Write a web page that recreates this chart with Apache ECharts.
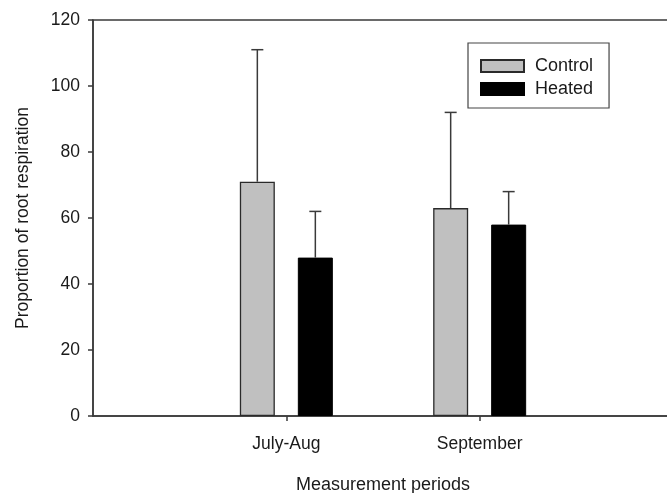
<!DOCTYPE html>
<html>
<head>
<meta charset="utf-8">
<script src="https://cdn.jsdelivr.net/npm/echarts@6/dist/echarts.min.js"></script>
<style>
  html, body { margin: 0; padding: 0; background: #fff; }
  #chart { width: 667px; height: 493px; }
</style>
</head>
<body>
<div id="chart"></div>
<script>
// Measurement periods and group means with their upper error
const periods = ['July-Aug', 'September'];
const controlMean = [71, 63];
const controlErr = [40, 29];
const heatedMean = [48, 58];
const heatedErr = [14, 10];
const yTicks = [0, 20, 40, 60, 80, 100, 120];

const FONT = '"Liberation Sans", Arial, sans-serif';
const TEXT = '#1a1a1a';
const LINE = '#3a3a3a';
const BAR_W = 35;
const BAR_GAP = 23;
const HALF_STEP = (BAR_W + BAR_GAP) / 2;

// period positions on the x axis: 1, 2, ...
const pos = periods.map((_, i) => i + 1);

function errData(means, errs) {
  return means.map((m, i) => [pos[i], m, errs[i]]);
}

function errRenderer(dir) {
  return function (params, api) {
    const x = api.value(0), m = api.value(1), e = api.value(2);
    const base = api.coord([x, m]);
    const top = api.coord([x, m + e]);
    const cx = base[0] + dir * HALF_STEP;
    const style = { stroke: LINE, lineWidth: 1.5 };
    return {
      type: 'group',
      children: [
        { type: 'line', shape: { x1: cx, y1: base[1], x2: cx, y2: top[1] }, style },
        { type: 'line', shape: { x1: cx - 6, y1: top[1], x2: cx + 6, y2: top[1] }, style }
      ]
    };
  };
}

const chart = echarts.init(document.getElementById('chart'), null, { renderer: 'canvas' });

chart.setOption({
  animation: false,
  backgroundColor: '#fff',
  textStyle: { fontFamily: FONT, color: TEXT },
  grid: {
    left: 93, top: 20, right: -6, bottom: 77,
    outerBoundsMode: 'none',
    containLabel: false,
    show: true, borderColor: LINE, borderWidth: 1.5, backgroundColor: 'transparent'
  },
  legend: {
    orient: 'vertical',
    left: 468, top: 43,
    padding: [14, 16, 10, 12],
    borderColor: '#444', borderWidth: 1.2,
    itemWidth: 43, itemHeight: 12, itemGap: 5,
    icon: 'rect',
    textStyle: { fontFamily: FONT, fontSize: 18, color: TEXT, padding: [0, 0, 0, 6] },
    data: ['Control', 'Heated']
  },
  xAxis: {
    type: 'value',
    min: 0, max: 3, interval: 1,
    splitLine: { show: false },
    axisLine: { lineStyle: { color: LINE, width: 1.5 } },
    axisTick: { show: true, customValues: pos, length: 5, lineStyle: { color: LINE, width: 1.5 } },
    axisLabel: {
      customValues: pos,
      formatter: v => periods[Math.round(v) - 1] || '',
      fontFamily: FONT, fontSize: 17.5, color: TEXT, margin: 19
    },
    name: 'Measurement periods',
    nameLocation: 'middle',
    nameGap: 60,
    nameTextStyle: { fontFamily: FONT, fontSize: 18, color: TEXT }
  },
  yAxis: {
    type: 'value',
    min: yTicks[0], max: yTicks[yTicks.length - 1], interval: 20,
    splitLine: { show: false },
    axisLine: { show: true, lineStyle: { color: LINE, width: 1.5 } },
    axisTick: { show: true, length: 5, lineStyle: { color: LINE, width: 1.5 } },
    axisLabel: { fontFamily: FONT, fontSize: 17.5, color: TEXT, margin: 13 },
    name: 'Proportion of root respiration',
    nameLocation: 'middle',
    nameGap: 61,
    nameTextStyle: { fontFamily: FONT, fontSize: 17.5, color: TEXT }
  },
  series: [
    {
      name: 'Control', type: 'bar',
      data: controlMean.map((v, i) => [pos[i], v]),
      barWidth: BAR_W, barGap: (BAR_GAP / BAR_W * 100) + '%',
      itemStyle: { color: '#c0c0c0', borderColor: '#2a2a2a', borderWidth: 1.3 }
    },
    {
      name: 'Heated', type: 'bar',
      data: heatedMean.map((v, i) => [pos[i], v]),
      barWidth: BAR_W, barGap: (BAR_GAP / BAR_W * 100) + '%',
      itemStyle: { color: '#000', borderColor: '#000', borderWidth: 1 }
    },
    {
      name: 'controlErr', type: 'custom',
      data: errData(controlMean, controlErr),
      renderItem: errRenderer(-1), z: 3, silent: true
    },
    {
      name: 'heatedErr', type: 'custom',
      data: errData(heatedMean, heatedErr),
      renderItem: errRenderer(1), z: 3, silent: true
    }
  ]
});
</script>
</body>
</html>
